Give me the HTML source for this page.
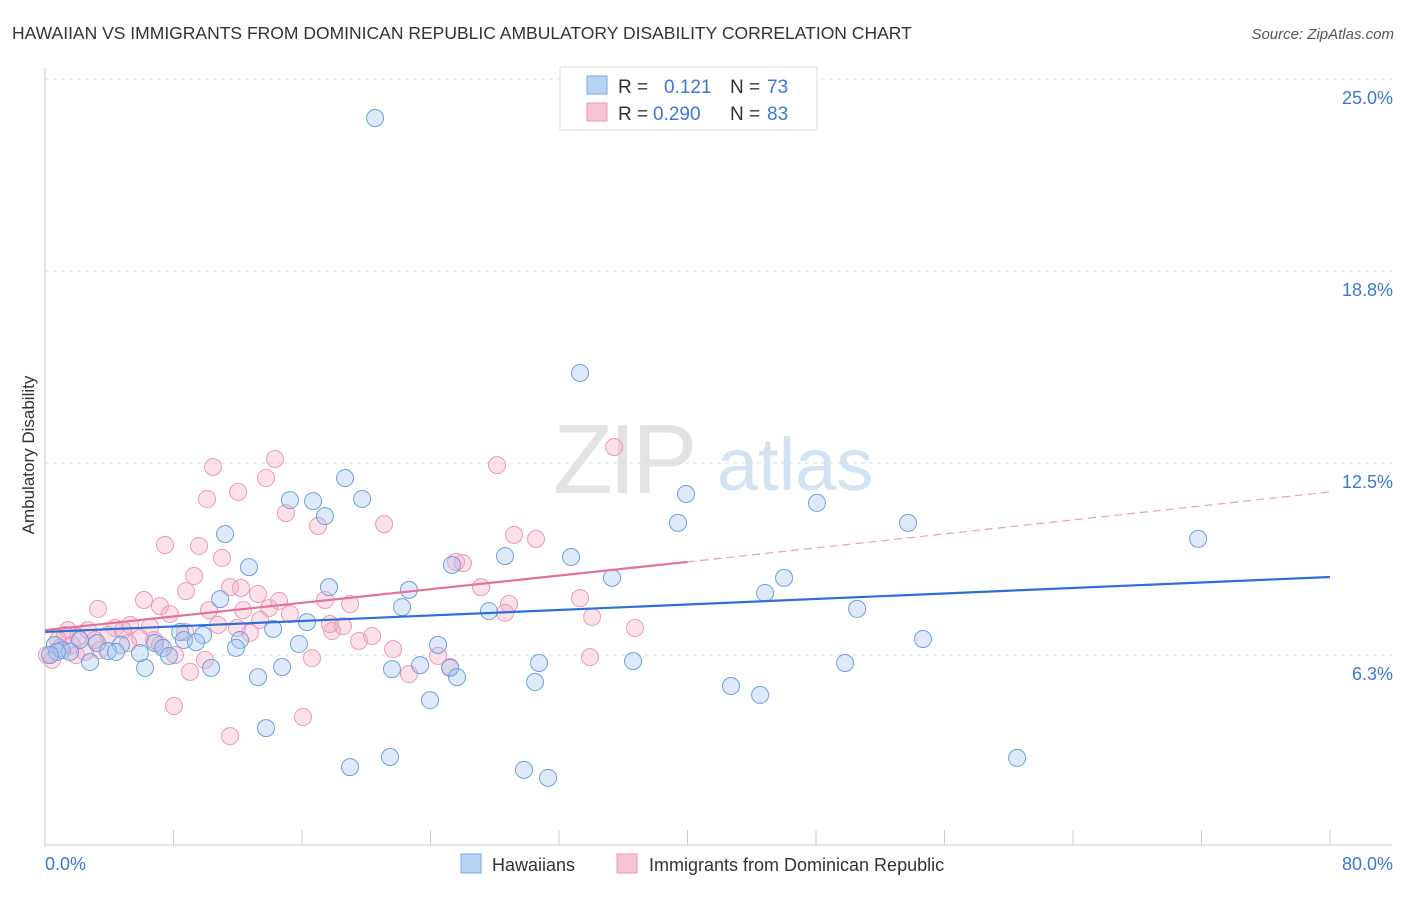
<!DOCTYPE html>
<html><head><meta charset="utf-8"><style>
body{margin:0;background:#fff;font-family:"Liberation Sans",sans-serif;}
svg text{font-family:"Liberation Sans",sans-serif;}
</style></head><body>
<svg id="chart" width="1406" height="892" viewBox="0 0 1406 892" xmlns="http://www.w3.org/2000/svg">
<text x="12" y="39" font-size="17.5" fill="#333">HAWAIIAN VS IMMIGRANTS FROM DOMINICAN REPUBLIC AMBULATORY DISABILITY CORRELATION CHART</text>
<text x="1394" y="39" font-size="15" fill="#555" text-anchor="end" font-style="italic">Source: ZipAtlas.com</text>
<g>
<text x="553" y="493" font-size="98" fill="#e3e3e3" font-family="Liberation Serif" letter-spacing="-4">ZIP</text>
<text x="717" y="490" font-size="74" fill="#d4e3f4">atlas</text>
</g>
<g id="grid"></g>
<g id="axes"></g>
<g id="marks"></g>
<text transform="translate(34,455) rotate(-90)" font-size="17" fill="#333" text-anchor="middle">Ambulatory Disability</text>
<g>
<rect x="560" y="67" width="257" height="63" fill="#fff" stroke="#ddd"/>
<rect x="587" y="76" width="20" height="18" fill="#b8d3f5" stroke="#7aa7e3"/>
<rect x="587" y="103" width="20" height="18" fill="#f8c4d4" stroke="#eb9ab5"/>
<text x="618" y="93" font-size="19" fill="#333">R = </text><text x="664" y="93" font-size="19" fill="#3a78d8">0.121</text>
<text x="730" y="93" font-size="19" fill="#333">N = </text><text x="767" y="93" font-size="19" fill="#3a78d8">73</text>
<text x="618" y="120" font-size="19" fill="#333">R = </text><text x="653" y="120" font-size="19" fill="#3a78d8">0.290</text>
<text x="730" y="120" font-size="19" fill="#333">N = </text><text x="767" y="120" font-size="19" fill="#3a78d8">83</text>
</g>
<g>
<rect x="461" y="854" width="20" height="19" fill="#b8d3f5" stroke="#7aa7e3"/>
<text x="492" y="871" font-size="18" fill="#333">Hawaiians</text>
<rect x="617" y="854" width="20" height="19" fill="#f8c4d4" stroke="#eb9ab5"/>
<text x="649" y="871" font-size="18" fill="#333">Immigrants from Dominican Republic</text>
</g>
</svg>
<script>
const yTicks=[6.25,12.5,18.75,25];
const yTickLabels=["6.3%","12.5%","18.8%","25.0%"];
const xTicks=[0,8,16,24,32,40,48,56,64,72,80];
const blueX=[20.55,33.31,18.68,15.25,16.69,19.74,17.43,39.91,39.41,48.06,53.73,71.79,11.21,12.70,32.75,28.64,25.34,35.30,17.68,22.66,46.01,44.83,22.23,27.64,50.56,10.90,16.31,14.20,8.41,9.84,12.14,8.65,9.40,11.89,24.47,54.66,15.81,6.85,4.73,3.24,2.18,0.62,1.06,1.56,3.92,4.42,7.35,7.72,2.80,6.23,10.34,14.76,13.26,21.60,23.35,25.22,25.65,30.76,30.51,36.61,49.81,42.71,44.52,23.97,13.76,21.48,18.99,29.82,31.32,60.52,5.91,0.75,0.31];
const blueY=[23.73,15.43,12.01,11.29,11.26,11.33,10.77,11.49,10.55,11.20,10.55,10.03,10.19,9.11,9.44,9.47,9.18,8.76,8.46,8.37,8.76,8.27,7.81,7.68,7.75,8.07,7.32,7.10,7.00,6.90,6.74,6.74,6.67,6.48,6.58,6.77,6.61,6.64,6.58,6.64,6.74,6.58,6.41,6.35,6.38,6.35,6.48,6.22,6.02,5.83,5.83,5.86,5.53,5.79,5.92,5.83,5.53,5.99,5.37,6.05,5.99,5.24,4.95,4.78,3.87,2.93,2.60,2.51,2.25,2.90,6.31,6.35,6.25];
const pinkX=[35.43,28.14,10.46,14.32,13.76,12.02,10.09,15.00,17.00,21.11,29.20,30.57,7.47,9.59,11.02,25.59,26.02,9.28,8.78,11.52,12.20,13.26,27.15,6.16,7.16,7.78,10.21,12.33,13.95,14.57,17.43,18.99,33.31,28.89,28.64,34.06,36.73,3.30,4.36,5.29,6.54,4.86,2.68,1.43,2.05,3.92,5.91,6.79,8.72,12.76,17.87,18.55,20.36,19.55,21.67,24.47,25.22,22.66,33.93,16.62,8.09,9.96,9.03,1.25,0.81,1.68,1.93,0.44,0.12,8.03,11.52,16.06,3.42,2.49,5.17,7.16,10.77,11.95,13.39,15.25,17.74,3.11,0.93];
const pinkY=[13.02,12.43,12.37,12.63,12.01,11.56,11.33,10.87,10.45,10.51,10.16,10.03,9.83,9.80,9.41,9.28,9.24,8.82,8.33,8.46,8.43,8.24,8.46,8.04,7.84,7.58,7.71,7.71,7.78,8.01,8.04,7.91,8.10,7.91,7.62,7.49,7.13,7.75,7.13,7.23,7.16,7.06,7.06,7.06,6.84,6.90,6.80,6.74,7.00,6.97,7.03,7.19,6.87,6.71,6.44,6.22,5.86,5.63,6.18,6.15,6.25,6.09,5.70,6.90,6.74,6.58,6.25,6.09,6.25,4.59,3.61,4.23,6.41,6.35,6.64,6.58,7.23,7.13,7.39,7.58,7.26,6.74,6.48];
const blueTrend=[7.00,8.79];
const pinkTrend=[7.06,9.28,11.56];

const X0=45,X1=1330,YB=847,YT=79;
function sx(v){return X0+(v/80)*(X1-X0);}
function sy(v){return YB-(v/25)*(YB-YT);}
const NS="http://www.w3.org/2000/svg";
function mk(tag,attrs,parent){const e=document.createElementNS(NS,tag);for(const k in attrs)e.setAttribute(k,attrs[k]);parent.appendChild(e);return e;}
const grid=document.getElementById('grid'),axes=document.getElementById('axes'),marks=document.getElementById('marks');
yTicks.forEach((t,i)=>{
 const l=mk('line',{x1:X0,x2:1392,y1:sy(t),y2:sy(t),stroke:'#dcdcdc','stroke-dasharray':'4,4'},grid);
 
 
 const tx=mk('text',{x:1393,y:sy(t)+25,'font-size':18,fill:'#3a78d8','text-anchor':'end'},axes);
 tx.textContent=yTickLabels[i];
 
 
});
const ax=mk('line',{x1:X0,x2:X0,y1:68,y2:YB,stroke:'#ccc'},axes);


const bx=mk('line',{x1:X0,x2:1392,y1:845,y2:845,stroke:'#ccc'},axes);


xTicks.forEach(t=>{
 const l=mk('line',{x1:sx(t),x2:sx(t),y1:830,y2:845,stroke:'#ccc'},axes);
 
 
});
const xl0=mk('text',{x:45,y:870,'font-size':18,fill:'#3a78d8'},axes);xl0.textContent='0.0%';


const xl1=mk('text',{x:1393,y:870,'font-size':18,fill:'#3a78d8','text-anchor':'end'},axes);xl1.textContent='80.0%';



pinkX.forEach((x,i)=>{
 const c=mk('circle',{cx:sx(x),cy:sy(pinkY[i]),r:8.5,fill:'rgba(245,170,195,0.35)',stroke:'#eb9ab5','stroke-width':1},marks);
 
 
});
blueX.forEach((x,i)=>{
 const c=mk('circle',{cx:sx(x),cy:sy(blueY[i]),r:8.5,fill:'rgba(160,195,240,0.35)',stroke:'#6f9fe0','stroke-width':1},marks);
 
 
});
const bl=mk('line',{x1:sx(0),y1:sy(blueTrend[0]),x2:sx(80),y2:sy(blueTrend[1]),stroke:'#2c6fd6','stroke-width':2.2},marks);


const pl=mk('line',{x1:sx(0),y1:sy(pinkTrend[0]),x2:sx(40),y2:sy(pinkTrend[1]),stroke:'#e4719a','stroke-width':2.2},marks);


const pd=mk('line',{x1:sx(40),y1:sy(pinkTrend[1]),x2:sx(80),y2:sy(pinkTrend[2]),stroke:'#e8a0b8','stroke-width':1.2,'stroke-dasharray':'8,5'},marks);


</script>
</body></html>
